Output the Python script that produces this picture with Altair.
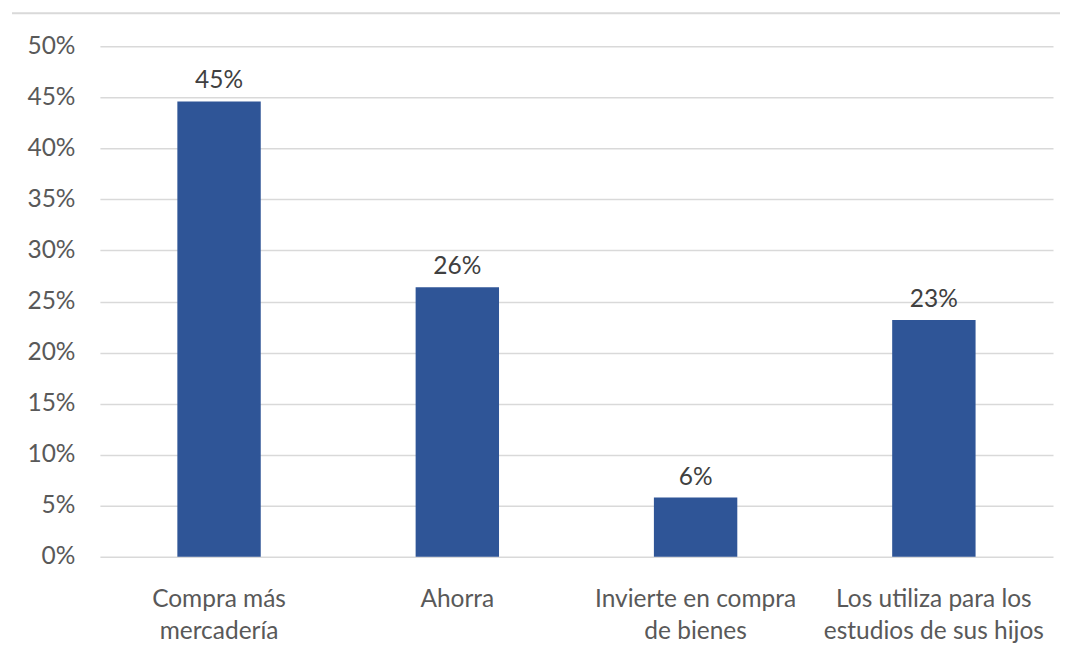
import altair as alt
import pandas as pd

categories = ["Compra más\nmercadería", "Ahorra", "Invierte en compra\nde bienes", "Los utiliza para los\nestudios de sus hijos"]
values = [0.446, 0.264, 0.058, 0.232]

df = pd.DataFrame({"cat": categories, "val": values})

FONT = "Lato"
FS = 24.5
x = alt.X("cat:N", sort=categories, title=None,
          scale=alt.Scale(paddingInner=0.65, paddingOuter=0.325),
          axis=alt.Axis(labelAngle=0, domain=False, ticks=False, labelFont=FONT,
                        labelFontSize=FS, labelColor="#595959", labelPadding=31,
                        labelLineHeight=32, labelExpr="split(datum.label, '\\n')",
                        labelLimit=400))
y = alt.Y("val:Q", title=None,
          scale=alt.Scale(domain=[0, 0.5]),
          axis=alt.Axis(format=".0%", values=[i / 100 for i in range(0, 51, 5)],
                        domain=False, ticks=False, labelFont=FONT, labelFontSize=FS,
                        labelColor="#595959", labelPadding=25, gridColor="#d9d9d9",
                        gridWidth=1.5))

base = alt.Chart(df)
bars = base.mark_bar(color="#2F5597").encode(x=x, y=y)
labels = base.mark_text(baseline="bottom", dy=-8, font=FONT, fontSize=FS, color="#404040").encode(
    x=x, y=y, text=alt.Text("val:Q", format=".0%"))
topline = alt.Chart(pd.DataFrame({"a": [0]})).mark_rule(color="#d9d9d9", strokeWidth=2).encode(
    x=alt.value(-88), x2=alt.value(961), y=alt.value(-33))

chart = alt.layer(topline, bars, labels).properties(
    width=954, height=511,
    autosize=alt.AutoSizeParams(type="none"),
    padding={"left": 92, "top": 38, "right": 12, "bottom": 95},
).configure_view(stroke=None)

chart.save("out.html", embed_options={"renderer": "svg", "actions": False})
